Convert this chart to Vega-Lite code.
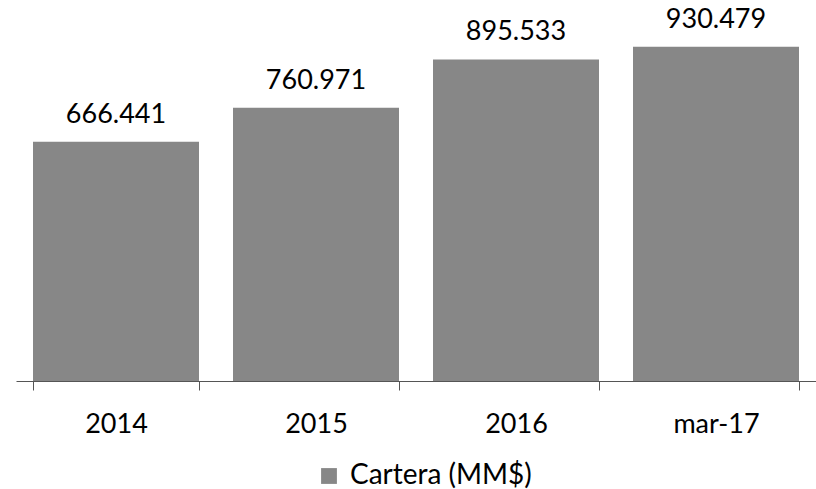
{
  "$schema": "https://vega.github.io/schema/vega-lite/v6.json",
  "width": 800,
  "height": 381,
  "padding": {"left": 16, "top": 0, "right": 0, "bottom": 0},
  "background": "white",
  "config": {"view": {"stroke": null}, "font": "Lato"},
  "data": {"values": [
    {"periodo": "2014", "valor": 666.441, "etiqueta": "666.441", "serie": "Cartera (MM$)"},
    {"periodo": "2015", "valor": 760.971, "etiqueta": "760.971", "serie": "Cartera (MM$)"},
    {"periodo": "2016", "valor": 895.533, "etiqueta": "895.533", "serie": "Cartera (MM$)"},
    {"periodo": "mar-17", "valor": 930.479, "etiqueta": "930.479", "serie": "Cartera (MM$)"}
  ]},
  "encoding": {
    "x": {"field": "periodo", "type": "nominal", "sort": null,
      "scale": {"paddingInner": 0.17, "paddingOuter": 0.085},
      "axis": {"title": null, "labelAngle": 0, "labelFontSize": 27, "labelColor": "#000000", "labelFont": "Lato",
        "tickBand": "extent", "tickSize": 9, "tickColor": "#555555", "domainColor": "#555555", "labelPadding": 21, "grid": false}},
    "y": {"field": "valor", "type": "quantitative", "scale": {"domain": [0, 1061]}, "axis": null}
  },
  "layer": [
    {"mark": {"type": "bar", "opacity": 1},
     "encoding": {"color": {"field": "serie", "type": "nominal",
        "scale": {"range": ["#878787"]},
        "legend": {"orient": "none", "legendX": 299, "legendY": 462, "direction": "horizontal", "title": null,
          "labelFontSize": 28, "labelColor": "#000000", "labelFont": "Lato", "labelOffset": 7, "labelLimit": 0,
          "symbolType": "square", "symbolSize": 250, "symbolStrokeWidth": 0, "symbolOpacity": 1}}}},
    {"mark": {"type": "text", "fontSize": 27, "dy": -19, "baseline": "alphabetic", "color": "#000000", "font": "Lato"},
     "encoding": {"text": {"field": "etiqueta"}}}
  ]
}
